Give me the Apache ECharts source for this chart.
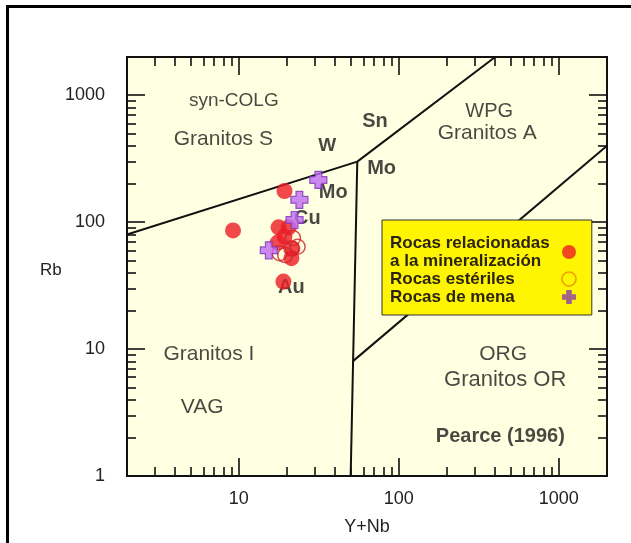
<!DOCTYPE html>
<html>
<head>
<meta charset="utf-8">
<script src="https://cdn.jsdelivr.net/npm/echarts@6/dist/echarts.min.js"></script>
<style>html,body{margin:0;padding:0;background:#fff}#c{width:631px;height:543px}</style>
</head>
<body>
<div id="c"></div>
<script>
// ---- data ----
const xRange = [2, 2000];
const yRange = [1, 2000];
const xLabelValues = [10, 100, 1000];
const yLabelValues = [1, 10, 100, 1000];
const majorTickValues = [10, 100, 1000];
const xMinorTickValues = [3,4,5,6,7,8,9,20,30,40,50,60,70,80,90,200,300,400,500,600,700,800,900];
const yMinorTickValues = [2,3,4,5,6,7,8,9,20,30,40,50,60,70,80,90,200,300,400,500,600,700,800,900];

// Pearce discrimination boundaries (Y+Nb, Rb)
const boundaryColgVagWpg = [[2, 80], [55, 300], [400, 2000]];
const boundaryVagOrg = [[50, 1], [55, 300]];
const boundaryWpgOrg = [[51.5, 8], [2000, 400]];

// samples (Y+Nb, Rb)
const rocasRelacionadas = [[19.3,176],[9.2,86],[17.7,91],[20.5,91],[19.3,77],[17.5,69],[21.6,62],[21.3,52],[19.0,34]];
const rocasEsteriles = [[21.8,75],[18.0,57],[21.3,62],[23.3,64],[19.5,55]];
const rocasMena = [[31.4,215],[23.9,150],[22.3,104],[15.4,60]];

// field annotations: text, Y+Nb, Rb, bold, size
const fieldLabels = [
  ['syn-COLG', 9.3, 896, false, 19],
  ['Granitos S', 8.0, 448, false, 21],
  ['WPG', 367, 746, false, 20],
  ['Granitos A', 357, 499, false, 21],
  ['Granitos I', 6.5, 9.1, false, 21],
  ['VAG', 5.9, 3.47, false, 21],
  ['ORG', 449, 9.1, false, 21],
  ['Granitos OR', 462, 5.7, false, 22],
  ['Pearce (1996)', 431, 2.04, true, 20],
  ['W', 35.7, 401, true, 19],
  ['Sn', 71, 622, true, 20],
  ['Mo', 78, 264, true, 20],
  ['Mo', 38.9, 170, true, 20],
  ['Cu', 26.8, 106, true, 20],
  ['Au', 21.3, 30.5, true, 20]
];

const legendNames = ['Rocas relacionadas\na la mineralización', 'Rocas estériles', 'Rocas de mena'];

// ---- chart ----
const FONT = '"Liberation Sans", Arial, sans-serif';
const crossPath = 'path://M3,0 H7 V3 H10 V7 H7 V10 H3 V7 H0 V3 H3 Z';
const tickStyle = {color: '#111', width: 1.6};

function logAxis(common, extra) {
  return Object.assign({
    type: 'log', logBase: 10,
    axisLine: {show: false},
    splitLine: {show: false},
    axisLabel: {show: false},
  }, common, extra);
}

const chart = echarts.init(document.getElementById('c'), null, {renderer: 'canvas'});

const xCommon = {min: xRange[0], max: xRange[1]};
const yCommon = {min: yRange[0], max: yRange[1]};
const plainNum = v => String(Math.round(v));

chart.setOption({
  animation: false,
  backgroundColor: '#fff',
  grid: {
    left: 127, right: 24, top: 57, bottom: 67,
    show: true, backgroundColor: '#FFFFE1', borderColor: '#111', borderWidth: 2
  },
  xAxis: [
    logAxis(xCommon, {
      position: 'bottom',
      name: 'Y+Nb', nameLocation: 'middle', nameGap: 42,
      nameTextStyle: {fontFamily: FONT, fontSize: 18, color: '#222'},
      axisLabel: {show: true, customValues: xLabelValues, margin: 14, formatter: plainNum,
        fontFamily: FONT, fontSize: 18, color: '#222'},
      axisTick: {show: true, inside: true, length: 18, customValues: majorTickValues, lineStyle: tickStyle}
    }),
    logAxis(xCommon, {position: 'bottom',
      axisTick: {show: true, inside: true, length: 9, customValues: xMinorTickValues, lineStyle: tickStyle}}),
    logAxis(xCommon, {position: 'top',
      axisTick: {show: true, inside: true, length: 18, customValues: majorTickValues, lineStyle: tickStyle}}),
    logAxis(xCommon, {position: 'top',
      axisTick: {show: true, inside: true, length: 9, customValues: xMinorTickValues, lineStyle: tickStyle}})
  ],
  yAxis: [
    logAxis(yCommon, {
      position: 'left',
      axisLabel: {show: true, customValues: yLabelValues, margin: 22, formatter: plainNum,
        fontFamily: FONT, fontSize: 18, color: '#222'},
      axisTick: {show: true, inside: true, length: 18, customValues: majorTickValues, lineStyle: tickStyle}
    }),
    logAxis(yCommon, {position: 'left',
      axisTick: {show: true, inside: true, length: 9, customValues: yMinorTickValues, lineStyle: tickStyle}}),
    logAxis(yCommon, {position: 'right',
      axisTick: {show: true, inside: true, length: 18, customValues: majorTickValues, lineStyle: tickStyle}}),
    logAxis(yCommon, {position: 'right',
      axisTick: {show: true, inside: true, length: 9, customValues: yMinorTickValues, lineStyle: tickStyle}})
  ],
  legend: {
    data: [
      {name: legendNames[0], icon: 'circle'},
      {name: legendNames[1], icon: 'circle', itemStyle: {color: '#FFF500', borderColor: '#E88A00', borderWidth: 1.6}},
      {name: legendNames[2], icon: crossPath, itemStyle: {color: '#8B3FA8', borderWidth: 0}}
    ],
    orient: 'vertical', align: 'right',
    left: 382, top: 220,
    padding: [14, 15, 9, 8],
    itemGap: 0, itemWidth: 14, itemHeight: 14,
    backgroundColor: '#FFF500', borderColor: '#333', borderWidth: 1,
    selectedMode: false,
    formatter: name => name.split('\n').map(s => '{l|' + s + '}').join('\n'),
    textStyle: {fontFamily: FONT, fontSize: 17, fontWeight: 'bold', color: '#2b2410',
      lineHeight: 18, width: 167,
      rich: {l: {align: 'left', fontFamily: FONT, fontSize: 17, fontWeight: 'bold', color: '#2b2410', lineHeight: 18}}}
  },
  graphic: [
    {type: 'rect', shape: {x: 7.5, y: 6.5, width: 640, height: 580}, style: {fill: 'none', stroke: '#000', lineWidth: 3}, z: 100, silent: true},
    {type: 'text', left: 40, top: 262, style: {text: 'Rb', font: '17px ' + FONT, fill: '#222'}}
  ],
  series: [
    {type: 'line', data: boundaryColgVagWpg, symbol: 'none', lineStyle: {color: '#111', width: 2}, silent: true, z: 2},
    {type: 'line', data: boundaryVagOrg, symbol: 'none', lineStyle: {color: '#111', width: 2}, silent: true, z: 2},
    {type: 'line', data: boundaryWpgOrg, symbol: 'none', lineStyle: {color: '#111', width: 2}, silent: true, z: 2},
    {
      type: 'scatter', silent: true, z: 3, symbolSize: 0,
      data: fieldLabels.map(d => ({
        name: d[0], value: [d[1], d[2]],
        label: {fontWeight: d[3] ? 'bold' : 'normal', fontSize: d[4]}
      })),
      label: {show: true, position: 'inside', formatter: p => p.name, fontFamily: FONT, color: '#1a1a1a'}
    },
    {name: legendNames[0], type: 'scatter', data: rocasRelacionadas, symbol: 'circle', symbolSize: 16,
      itemStyle: {color: '#EC1C24'}, z: 4},
    {name: legendNames[1], type: 'scatter', data: rocasEsteriles, symbol: 'circle', symbolSize: 15,
      itemStyle: {color: 'rgba(0,0,0,0)', borderColor: '#D2232A', borderWidth: 1.5}, z: 5},
    {name: legendNames[2], type: 'scatter', data: rocasMena, symbol: crossPath, symbolSize: 17,
      itemStyle: {color: '#BF6BF2', borderColor: '#7B33B5', borderWidth: 1.2}, z: 6}
  ]
});
</script>
</body>
</html>
